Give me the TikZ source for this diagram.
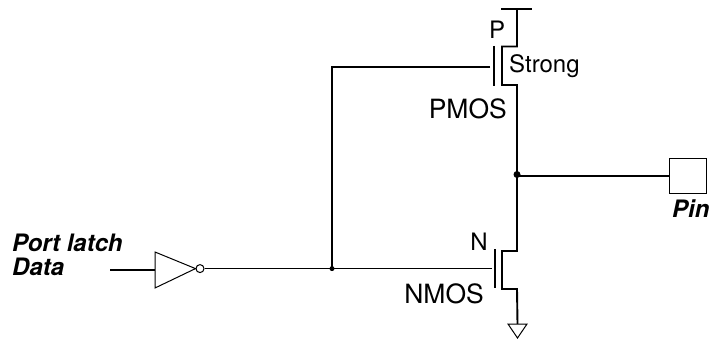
\documentclass[tikz,border=0pt]{standalone}
\usepackage{fontspec}
\setmainfont{TeX Gyre Heros}
\begin{document}
\begin{tikzpicture}[x=1pt,y=-1pt,
  wire/.style={line width=1.9pt,line join=miter},
  thinwire/.style={line width=1pt},
  gatebar/.style={line width=1.9pt},
  logic/.style={draw,line width=1pt,fill=white},
  junction/.style={circle,fill=black,inner sep=0pt},
  lab/.style={inner sep=0pt,font=\fontsize{24}{24}\selectfont},
  mlab/.style={inner sep=0pt,font=\fontsize{26.5}{26.5}\selectfont},
  blab/.style={inner sep=0pt,font=\fontsize{24}{24}\selectfont\bfseries\itshape}]
\useasboundingbox (0,0) rectangle (709,339);
% coordinates
\coordinate (vddl) at (501,9);
\coordinate (vddr) at (532,9);
\coordinate (vddm) at (517,9);
\coordinate (pt) at (517,46.5);
\coordinate (pti) at (502,46.5);
\coordinate (pbi) at (502,85);
\coordinate (pb) at (517,85);
\coordinate (nt) at (517,251);
\coordinate (nti) at (502,251);
\coordinate (nbi) at (502,289);
\coordinate (nb) at (517,289);
\coordinate (gnd) at (517.5,324);
\coordinate (g1) at (508,324);
\coordinate (g2) at (527,324);
\coordinate (g3) at (517.5,338);
\coordinate (pgt) at (494,46);
\coordinate (pgb) at (494,86);
\coordinate (pgw) at (490,67);
\coordinate (ngt) at (495,249);
\coordinate (ngb) at (495,287.5);
\coordinate (ngw) at (492,268.6);
\coordinate (corner) at (332,67);
\coordinate (in) at (110,270);
\node[junction,minimum size=7pt] (mid) at (517,174.5) {};
\node[junction,minimum size=5pt] (tee) at (332,268.6) {};
% rails
\draw[wire] (vddl) -- (vddr);
\draw[wire] (vddm) -- (pt) -- (pti) -- (pbi) -- (pb) -- (mid.center) -- (nt) -- (nti) -- (nbi) -- (nb) -- (gnd);
\draw[logic] (g1) -- (g2) -- (g3) -- cycle;
\draw[gatebar] (pgt) -- (pgb);
\draw[gatebar] (ngt) -- (ngb);
% gate wires
\draw[wire] (pgw) -- (corner) -- (tee.center);
% pin
\node[draw,line width=1.9pt,minimum width=37pt,minimum height=35pt,inner sep=0pt] (pinbox) at (688,176) {};
\draw[wire] (mid.center) ++(0,1.5) -- (pinbox.west);
% inverter
\node[draw,circle,line width=1pt,minimum size=8pt,inner sep=0pt] (bub) at (200,268.6) {};
\coordinate (it) at (155,252);
\coordinate (ib) at (155,288);
\coordinate (iw) at (155,270);
\draw[logic] (it) -- (bub.west) -- (ib) -- cycle;
\draw[wire] (in) -- (iw);
\draw[thinwire] (bub.east) -- (tee.center) -- (ngw);
% labels
\node[lab,anchor=base] (lp) at (497,39) {P};
\node[lab,anchor=base west] (ls) at (509,72.5) {Strong};
\node[mlab,anchor=base east] (lpm) at (507,119) {PMOS};
\node[lab,anchor=base] (ln) at (479,250) {N};
\node[mlab,anchor=base east] (lnm) at (484,303) {NMOS};
\node[blab,anchor=base west] (lpl) at (12,251) {Port latch};
\node[blab,anchor=base west] (ld) at (12,275) {Data};
\node[blab,anchor=base west] (lpin) at (672,217) {Pin};
\end{tikzpicture}
\end{document}
